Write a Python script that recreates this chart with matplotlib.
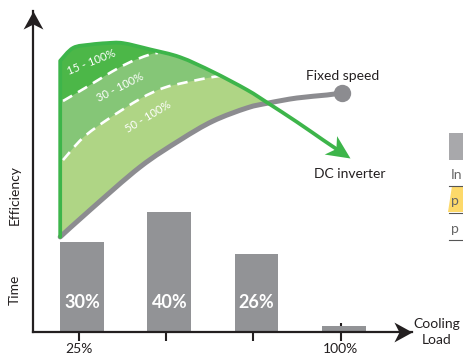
import math
import numpy as np
import matplotlib
matplotlib.use("Agg")
import matplotlib.pyplot as plt
from matplotlib.path import Path
from matplotlib.markers import MarkerStyle
from matplotlib.transforms import Affine2D
from matplotlib.patches import Polygon, Rectangle, PathPatch
from matplotlib.lines import Line2D

plt.rcParams['font.family'] = ['Lato', 'DejaVu Sans']

# Share of operating time spent at each cooling load
bar_loads = [25, 50, 75, 100]
time_share = [30, 40, 26, 2]
share_labels = ['30%', '40%', '26%', '']
tick_labels = ['25%', '', '', '100%']

# DC inverter efficiency envelope (left edge + top curve)
dc_load = [19.6, 19.6, 23.3, 28.2, 33.0, 37.6, 45.4, 54.0, 63.4, 73.2, 79.2, 87.5, 95.0, 102.7]
dc_eff = [31.7, 90.4, 94.7, 95.8, 96.3, 96.3, 94.2, 91.6, 86.7, 80.7, 76.3, 70.0, 64.0, 58.0]

# Fixed speed efficiency curve
fixed_load = [19.6, 28.2, 42.5, 54.0, 63.4, 73.2, 79.2, 87.5, 96.1, 100.4]
fixed_eff = [31.7, 40.7, 55.0, 64.0, 70.3, 74.7, 76.3, 78.0, 79.0, 79.7]

# Modulation range boundaries
mod30_load = [20.4, 26.7, 31.9, 36.8, 41.1, 45.9, 47.6]
mod30_eff = [77.0, 81.3, 85.0, 88.3, 90.7, 92.7, 93.0]
mod50_load = [20.4, 26.1, 33.0, 42.5, 49.1, 56.0, 63.4, 65.4]
mod50_eff = [57.3, 64.7, 70.7, 77.7, 81.3, 83.3, 85.0, 85.3]

crossing_load = 79.2

INK = '#231f20'
GREEN_LINE = '#3db54a'
GREEN_DARK = '#4cb748'
GREEN_MID = '#85c677'
GREEN_LIGHT = '#afd585'
GRAY_LINE = '#8c8c90'
GRAY_BAR = '#929396'


def smooth_segments(pts):
    """Cubic Bezier segments (Catmull-Rom style) through the given points,
    returned without the starting MOVETO."""
    pts = [np.asarray(p, float) for p in pts]
    verts, codes = [], []
    n = len(pts)
    for i in range(n - 1):
        p0 = pts[i - 1] if i > 0 else pts[i]
        p1, p2 = pts[i], pts[i + 1]
        p3 = pts[i + 2] if i + 2 < n else pts[i + 1]
        c1 = p1 + (p2 - p0) / 6.0
        c2 = p2 - (p3 - p1) / 6.0
        verts += [tuple(c1), tuple(c2), tuple(p2)]
        codes += [Path.CURVE4] * 3
    return verts, codes


def smooth_path(pts):
    v, c = smooth_segments(pts)
    return Path([tuple(pts[0])] + v, [Path.MOVETO] + c)


W, H = 464, 356
fig = plt.figure(figsize=(W / 100, H / 100), dpi=100)
ax = fig.add_axes([33 / W, 24 / H, 379 / W, 321 / H])
ax.set_xlim(11.8, 120.5)
ax.set_ylim(0, 107)

for s in ('top', 'right'):
    ax.spines[s].set_visible(False)
for s in ('left', 'bottom'):
    ax.spines[s].set_color(INK)
    ax.spines[s].set_linewidth(1.6)
    ax.spines[s].set_zorder(8)

ax.set_yticks([])
ax.set_xticks(bar_loads, tick_labels)
ax.tick_params(axis='x', direction='inout', length=13, width=1.5, color=INK,
               pad=1.5, labelsize=10, labelcolor=INK)

# stealth-style arrowhead, tip at the origin pointing +x
head = Path([(0, 0), (-1, 0.55), (-0.72, 0), (-1, -0.55), (0, 0)],
            [Path.MOVETO, Path.LINETO, Path.LINETO, Path.LINETO, Path.CLOSEPOLY])
ax.plot(1, 0, marker=MarkerStyle(head), ms=26, color=INK, mew=0,
        transform=ax.transAxes, clip_on=False, zorder=9)
ax.plot(0, 1, marker=MarkerStyle(head, transform=Affine2D().rotate_deg(90)), ms=26,
        color=INK, mew=0, transform=ax.transAxes, clip_on=False, zorder=9)

# time-share bars
bx = np.array(bar_loads) + 0.9
ax.bar(bx, time_share, width=12.6, color=GRAY_BAR, zorder=2)
for x, lab in zip(bx, share_labels):
    ax.text(x, 10, lab, ha='center', va='center', color='white',
            fontsize=13, fontweight='bold', zorder=3)

# efficiency band between DC inverter envelope and fixed speed curve
top = [(x, y) for x, y in zip(dc_load, dc_eff) if x <= crossing_load]
bottom = [(x, y) for x, y in zip(fixed_load, fixed_eff) if x <= crossing_load]
tv, tc = smooth_segments(top[1:])
bv, bc = smooth_segments(bottom[::-1])
band_path = Path([top[0], top[1]] + tv + bv + [top[0]],
                 [Path.MOVETO, Path.LINETO] + tc + bc + [Path.CLOSEPOLY])
band = PathPatch(band_path, facecolor=GREEN_DARK, edgecolor='none', zorder=3)
ax.add_patch(band)


def region_below(loads, effs):
    pts = list(zip(loads, effs))
    v, c = smooth_segments(pts)
    extra = [(loads[-1], 130), (130, 130), (130, -10), (10, -10), (10, effs[0])]
    return Path([(10, effs[0]), pts[0]] + v + extra,
                [Path.MOVETO, Path.LINETO] + c + [Path.LINETO] * 4 + [Path.CLOSEPOLY])


mid = PathPatch(region_below(mod30_load, mod30_eff), facecolor=GREEN_MID,
                edgecolor='none', zorder=3.1)
ax.add_patch(mid)
mid.set_clip_path(band)
light = PathPatch(region_below(mod50_load, mod50_eff), facecolor=GREEN_LIGHT,
                  edgecolor='none', zorder=3.2)
ax.add_patch(light)
light.set_clip_path(band)

for lx, ly in ((mod30_load, mod30_eff), (mod50_load, mod50_eff)):
    dl = PathPatch(smooth_path(list(zip(lx, ly))), fill=False, edgecolor='white',
                   lw=1.9, linestyle=(0, (4, 2.6)), zorder=5)
    ax.add_patch(dl)
    dl.set_clip_path(band)

# fixed speed curve
ax.add_patch(PathPatch(smooth_path(list(zip(fixed_load, fixed_eff))), fill=False,
                       edgecolor=GRAY_LINE, lw=3.6, capstyle='round',
                       joinstyle='round', zorder=4))
ax.plot(fixed_load[-1], fixed_eff[-1], 'o', ms=12.5, color=GRAY_LINE, mew=0, zorder=4)

# DC inverter curve with arrowhead
fx = 0.5
end_x = dc_load[-2] + fx * (dc_load[-1] - dc_load[-2])
end_y = dc_eff[-2] + fx * (dc_eff[-1] - dc_eff[-2])
curve_pts = list(zip(dc_load[1:-1], dc_eff[1:-1])) + [(end_x, end_y)]
cv, cc = smooth_segments(curve_pts)
dc_path = Path([(dc_load[0], dc_eff[0]), curve_pts[0]] + cv,
               [Path.MOVETO, Path.LINETO] + cc)
ax.add_patch(PathPatch(dc_path, fill=False, edgecolor=GREEN_LINE, lw=2.7,
                       capstyle='round', joinstyle='round', zorder=6))
p1 = ax.transData.transform((dc_load[-2], dc_eff[-2]))
p2 = ax.transData.transform((dc_load[-1], dc_eff[-1]))
ang = math.degrees(math.atan2(p2[1] - p1[1], p2[0] - p1[0]))
dc_head = Path([(0, 0), (-1, 0.47), (-0.72, 0), (-1, -0.47), (0, 0)],
               [Path.MOVETO, Path.LINETO, Path.LINETO, Path.LINETO, Path.CLOSEPOLY])
ax.plot(dc_load[-1], dc_eff[-1], marker=MarkerStyle(dc_head, transform=Affine2D().rotate_deg(ang)),
        ms=34, color=GREEN_LINE, mew=0, zorder=6, clip_on=False)

# band labels
ax.text(28.7, 90.0, '15 - 100%', rotation=22, color='white', fontsize=8,
        ha='center', va='center', rotation_mode='anchor', zorder=7)
ax.text(36.8, 81.7, '30 - 100%', rotation=27, color='white', fontsize=8,
        ha='center', va='center', rotation_mode='anchor', zorder=7)
ax.text(44.8, 71.7, '50 - 100%', rotation=31, color='white', fontsize=8,
        ha='center', va='center', rotation_mode='anchor', zorder=7)

ax.text(100.7, 85.3, 'Fixed speed', ha='center', va='center', fontsize=10, color=INK)
ax.text(102.7, 52.7, 'DC inverter', ha='center', va='center', fontsize=10, color=INK)
ax.text(127.6, 0, 'Cooling\nLoad', ha='center', va='center', fontsize=10,
        color=INK, linespacing=1.35, clip_on=False)

fig.text(15 / W, 1 - 195 / H, 'Efficiency', rotation=90, ha='center', va='center',
         fontsize=10, color=INK)
fig.text(15 / W, 1 - 290 / H, 'Time', rotation=90, ha='center', va='center',
         fontsize=10, color=INK)


# neighbouring table fragment at the right edge
def fpx(x, y):
    return (x / W, 1 - y / H)


fig.add_artist(Rectangle(fpx(449, 160), 15 / W, 27 / H, transform=fig.transFigure,
                         facecolor='#a8a8ab', edgecolor='none'))
fig.add_artist(Polygon([fpx(452, 186), fpx(464, 186), fpx(464, 212), fpx(448, 212)],
                       closed=True, transform=fig.transFigure,
                       facecolor='#fdd96a', edgecolor='none'))
for yy in (186, 213, 240):
    fig.add_artist(Line2D([449 / W, 1], [1 - yy / H] * 2, transform=fig.transFigure,
                          color='#555555', lw=0.8))
fig.text(451 / W, 1 - 175 / H, 'In', fontsize=10, color='#666666', va='center')
fig.text(451 / W, 1 - 201 / H, 'p', fontsize=10, color='#666666', va='center')
fig.text(451 / W, 1 - 229 / H, 'p', fontsize=10, color='#666666', va='center')

fig.savefig('out.png', dpi=100)
